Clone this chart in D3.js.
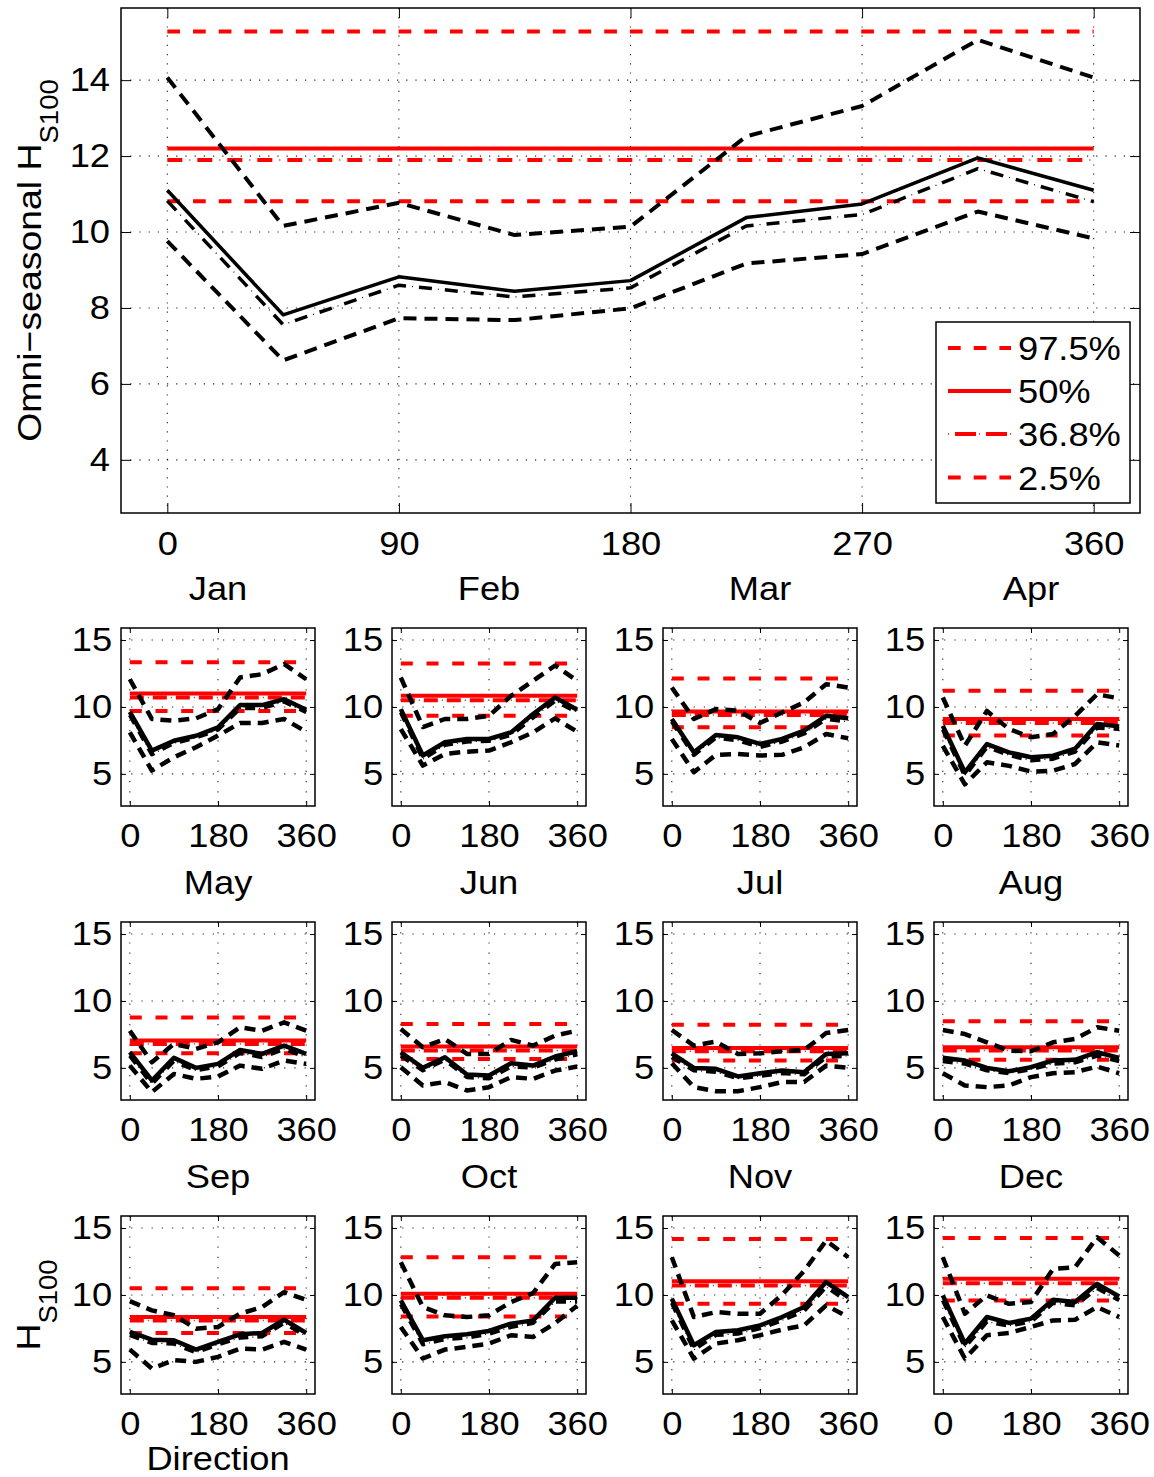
<!DOCTYPE html>
<html>
<head>
<meta charset="utf-8">
<script src="https://cdn.jsdelivr.net/npm/d3@7"></script>
<style>
  body { margin: 0; background: #fff; }
  svg text { font-family: "Liberation Sans", Arial, Helvetica, sans-serif; fill: #000; }
</style>
</head>
<body>
<svg id="fig" width="1154" height="1477"></svg>
<script>
// directions of the sectors (deg)
const directions = [0, 45, 90, 135, 180, 225, 270, 315, 360];
const quantiles = ['97.5%', '50%', '36.8%', '2.5%'];

// omni-seasonal, per direction
const omniHi   = [14.07, 10.16, 10.77, 9.92, 10.14, 12.52, 13.32, 15.06, 14.07];
const omniMed  = [11.10, 7.82, 8.82, 8.44, 8.72, 10.38, 10.74, 11.95, 11.10];
const omniMode = [10.82, 7.56, 8.60, 8.29, 8.53, 10.16, 10.46, 11.67, 10.80];
const omniLo   = [9.76, 6.62, 7.73, 7.68, 7.99, 9.17, 9.42, 10.54, 9.83];
// omni-directional levels: 97.5%, 50%, 36.8%, 2.5%
const omniLevels = [15.28, 12.2, 11.9, 10.81];

const months = ['Jan', 'Feb', 'Mar', 'Apr', 'May', 'Jun', 'Jul', 'Aug', 'Sep', 'Oct', 'Nov', 'Dec'];

const monthHi = [
  [12.07, 9.1, 8.97, 9.15, 9.84, 12.2, 12.45, 13.2, 12.07],
  [12.2, 8.5, 9.1, 9.1, 9.34, 10.83, 11.95, 13.1, 11.95],
  [11.45, 9.1, 9.84, 9.72, 8.8, 9.59, 10.34, 11.7, 11.45],
  [10.71, 7.1, 9.7, 8.35, 7.73, 7.98, 9.34, 10.95, 10.64],
  [7.78, 5.42, 6.79, 6.42, 6.91, 8.03, 7.78, 8.4, 7.78],
  [7.9, 6.54, 7.16, 6.04, 6.04, 7.09, 6.66, 7.41, 7.78],
  [7.83, 6.66, 6.96, 6.04, 6.09, 6.24, 6.34, 7.6, 7.83],
  [7.83, 7.53, 6.91, 6.29, 6.24, 6.91, 7.16, 8.03, 7.78],
  [9.54, 8.85, 8.48, 7.48, 7.61, 8.6, 9.1, 10.21, 9.64],
  [12.45, 9.1, 8.48, 8.35, 8.48, 9.47, 10.14, 12.32, 12.45],
  [12.82, 8.35, 8.72, 8.6, 8.6, 10.0, 11.8, 14.06, 12.82],
  [12.82, 8.6, 9.97, 9.34, 9.47, 11.95, 12.07, 14.31, 12.95]
];
const monthMed = [
  [9.64, 6.74, 7.48, 7.85, 8.48, 10.14, 10.14, 10.58, 9.79],
  [9.84, 6.37, 7.36, 7.61, 7.61, 8.1, 9.47, 10.71, 9.79],
  [9.1, 6.62, 7.91, 7.73, 7.24, 7.61, 8.23, 9.34, 9.15],
  [8.59, 5.12, 7.23, 6.61, 6.24, 6.36, 6.88, 8.72, 8.55],
  [6.17, 4.06, 5.75, 5.0, 5.3, 6.34, 6.04, 6.66, 6.04],
  [6.17, 5.0, 5.8, 4.5, 4.43, 5.35, 5.17, 5.85, 6.24],
  [6.09, 5.0, 4.93, 4.36, 4.6, 4.8, 4.68, 6.04, 6.09],
  [5.75, 5.55, 5.0, 4.75, 5.05, 5.55, 5.6, 6.17, 5.75],
  [7.24, 6.66, 6.62, 5.92, 6.49, 7.06, 7.16, 8.15, 7.16],
  [9.59, 6.62, 6.91, 7.06, 7.31, 7.86, 8.1, 9.79, 9.79],
  [9.72, 6.24, 7.24, 7.36, 7.73, 8.35, 9.1, 10.96, 9.84],
  [9.97, 6.37, 8.35, 7.91, 8.23, 9.64, 9.47, 10.83, 9.89]
];
const monthMode = [
  [9.4, 6.45, 7.3, 7.7, 8.3, 9.9, 9.9, 10.4, 9.6],
  [9.6, 6.1, 7.15, 7.4, 7.45, 7.9, 9.2, 10.45, 9.6],
  [8.9, 6.4, 7.7, 7.5, 7.0, 7.4, 8.0, 9.1, 8.9],
  [8.3, 4.85, 7.0, 6.4, 6.0, 6.12, 6.65, 8.45, 8.35],
  [5.9, 3.8, 5.5, 4.8, 5.1, 6.1, 5.8, 6.4, 5.8],
  [5.9, 4.8, 5.6, 4.3, 4.2, 5.1, 5.0, 5.6, 6.0],
  [5.8, 4.8, 4.7, 4.2, 4.4, 4.6, 4.5, 5.8, 5.9],
  [5.5, 5.3, 4.8, 4.6, 4.9, 5.3, 5.4, 5.9, 5.5],
  [7.0, 6.4, 6.35, 5.7, 6.3, 6.8, 6.9, 7.9, 6.9],
  [9.3, 6.3, 6.7, 6.8, 7.1, 7.6, 7.9, 9.5, 9.5],
  [9.4, 5.9, 7.0, 7.1, 7.5, 8.1, 8.8, 10.6, 9.5],
  [9.6, 6.1, 8.0, 7.7, 8.0, 9.4, 9.2, 10.5, 9.6]
];
const monthLo = [
  [8.1, 5.25, 6.24, 6.99, 7.86, 8.8, 8.8, 9.1, 8.15],
  [8.35, 5.62, 6.49, 6.66, 6.74, 7.36, 8.1, 9.15, 8.15],
  [7.61, 5.13, 6.42, 6.49, 6.37, 6.42, 6.99, 7.98, 7.66],
  [7.1, 4.22, 5.87, 5.6, 5.17, 5.24, 5.74, 7.36, 7.12],
  [5.17, 3.19, 4.55, 4.18, 4.36, 5.17, 4.93, 5.55, 5.3],
  [5.05, 3.69, 3.94, 3.31, 3.56, 4.31, 4.18, 4.8, 5.1],
  [5.35, 3.56, 3.26, 3.26, 3.56, 3.94, 3.94, 5.17, 5.0],
  [4.6, 3.69, 3.56, 3.69, 4.31, 4.6, 4.68, 5.1, 4.6],
  [5.92, 4.5, 5.13, 5.0, 5.37, 5.99, 5.92, 6.49, 5.92],
  [7.61, 5.25, 5.92, 6.12, 6.37, 6.99, 6.86, 7.9, 9.2],
  [8.1, 5.25, 6.37, 6.62, 6.99, 7.41, 7.73, 9.22, 8.35],
  [8.35, 5.25, 6.99, 7.16, 7.61, 8.1, 8.15, 9.1, 8.35]
];
// monthly omni-directional levels: 97.5%, 50%, 36.8%, 2.5%
const monthLevels = [
  [13.35, 11.0, 10.7, 9.7],
  [13.25, 10.83, 10.5, 9.34],
  [12.12, 9.67, 9.4, 8.48],
  [11.21, 9.1, 8.8, 7.86],
  [8.77, 7.04, 6.79, 6.09],
  [8.28, 6.59, 6.29, 5.67],
  [8.23, 6.49, 6.24, 5.55],
  [8.48, 6.54, 6.29, 5.6],
  [10.51, 8.35, 8.1, 7.16],
  [12.82, 10.09, 9.79, 8.4],
  [14.18, 11.03, 10.71, 9.34],
  [14.26, 11.21, 10.88, 9.59]
];

const RED = '#ff0000';
const FS = 33;          // font size
const SX = 1.1;         // horizontal stretch of the text
const xDomain = [-18, 378];
const yDomain = [2.6, 15.9];

const svg = d3.select('#fig');

// draws a styled stroke; dash-dot = thick dashes + thin dots
function strokePath(sel, st) {
  if (st.dot) {
    const P = st.dot.d + 2 * st.dot.g + 1;
    sel.clone(true).attr('stroke-width', st.dotW)
      .attr('stroke-dasharray', `1,${P - 1}`)
      .attr('stroke-dashoffset', st.dot.g + 1);
    sel.attr('stroke-width', st.w).attr('stroke-dasharray', `${st.dot.d},${P - st.dot.d}`);
  } else {
    sel.attr('stroke-width', st.w).attr('stroke-dasharray', st.dash || null);
  }
}

function drawPanel(g, w, h, o) {
  const x = d3.scaleLinear().domain(xDomain).range([0, w]);
  const y = d3.scaleLinear().domain(yDomain).range([h, 0]);

  // dotted grid
  g.append('g').selectAll('line').data(o.xTicks).join('line')
    .attr('x1', d => x(d)).attr('x2', d => x(d))
    .attr('y1', 0).attr('y2', h)
    .attr('stroke', '#222').attr('stroke-width', 1.1)
    .attr('stroke-dasharray', o.gridDash);
  g.append('g').selectAll('line').data(o.yTicks).join('line')
    .attr('x1', 0).attr('x2', w)
    .attr('y1', d => y(d)).attr('y2', d => y(d))
    .attr('stroke', '#222').attr('stroke-width', 1.1)
    .attr('stroke-dasharray', o.gridDash);

  // red reference levels
  const gr = g.append('g');
  o.levels.forEach((v, i) => {
    const l = gr.append('line')
      .attr('x1', x(0)).attr('x2', x(360))
      .attr('y1', y(v)).attr('y2', y(v))
      .attr('stroke', RED);
    strokePath(l, o.redStyle[i]);
  });

  // black directional curves
  const line = d3.line().x((d, i) => x(directions[i])).y(d => y(d));
  const gb = g.append('g');
  o.series.forEach((s, i) => {
    const p = gb.append('path').datum(s).attr('d', line)
      .attr('fill', 'none').attr('stroke', '#000')
      .attr('stroke-linejoin', 'round');
    strokePath(p, o.blackStyle[i]);
  });

  // axes with inward ticks
  const tl = o.tickLen;
  const styleAxis = sel => {
    sel.select('.domain').remove();
    sel.selectAll('.tick line').attr('stroke', '#000').attr('stroke-width', 1);
    sel.selectAll('.tick text')
      .attr('font-size', FS)
      .attr('font-family', null)
      .attr('transform', `scale(${SX},1)`);
  };
  g.append('g').attr('transform', `translate(0,${h})`)
    .call(d3.axisBottom(x).tickValues(o.xTicks).tickSizeInner(-tl).tickSizeOuter(0)
      .tickPadding(o.xPad).tickFormat(d3.format('d')))
    .call(styleAxis);
  g.append('g')
    .call(d3.axisLeft(y).tickValues(o.yTicks).tickSizeInner(-tl).tickSizeOuter(0)
      .tickPadding(o.yPad).tickFormat(d3.format('d')))
    .call(styleAxis);
  g.append('g')
    .call(d3.axisTop(x).tickValues(o.xTicks).tickSizeInner(-tl).tickSizeOuter(0).tickFormat(''))
    .call(styleAxis);
  g.append('g').attr('transform', `translate(${w},0)`)
    .call(d3.axisRight(y).tickValues(o.yTicks).tickSizeInner(-tl).tickSizeOuter(0).tickFormat(''))
    .call(styleAxis);

  g.append('rect').attr('width', w).attr('height', h)
    .attr('fill', 'none').attr('stroke', '#000').attr('stroke-width', 1.5);

  return { x, y };
}

// ---------- main omni-seasonal panel ----------
const mainL = 121, mainT = 8, mainW = 1019, mainH = 505;
const mainRed = [
  { w: 4, dash: '12.7,13' },
  { w: 4 },
  { w: 4, dotW: 1.5, dot: { d: 15, g: 7 } },
  { w: 4, dash: '12.7,13' }
];
const gm = svg.append('g').attr('transform', `translate(${mainL},${mainT})`);
drawPanel(gm, mainW, mainH, {
  xTicks: [0, 90, 180, 270, 360],
  yTicks: [4, 6, 8, 10, 12, 14],
  levels: omniLevels,
  series: [omniHi, omniMed, omniMode, omniLo],
  redStyle: mainRed,
  blackStyle: [
    { w: 4, dash: '13,8' },
    { w: 3.5 },
    { w: 3.5, dotW: 1.2, dot: { d: 13, g: 6 } },
    { w: 4, dash: '13,8' }
  ],
  gridDash: '1.2,8',
  tickLen: 10,
  xPad: 19,
  yPad: 10
});

// y label
const yl = svg.append('text')
  .attr('transform', `translate(41,${mainT + mainH / 2}) rotate(-90) scale(${SX},1)`)
  .attr('text-anchor', 'middle').attr('font-size', 34);
yl.append('tspan').text('Omni\u2212seasonal H');
yl.append('tspan').attr('font-size', 25).attr('dy', 17).text('S100');

// legend
const lg = svg.append('g').attr('transform', 'translate(936,322)');
lg.append('rect').attr('width', 194).attr('height', 181)
  .attr('fill', '#fff').attr('stroke', '#000').attr('stroke-width', 1.5);
const legRows = [26, 69, 112, 155.5];
const legStyle = [
  { w: 4, dash: '12.7,13' },
  { w: 4 },
  { w: 4, dotW: 1.5, dot: { d: 15, g: 7 } },
  { w: 4, dash: '12.7,13' }
];
quantiles.forEach((q, i) => {
  const l = lg.append('line').attr('x1', 12).attr('x2', 75)
    .attr('y1', legRows[i]).attr('y2', legRows[i])
    .attr('stroke', RED);
  if (i === 2) {
    // dot - dash - dot - dash sample
    l.attr('stroke-width', 4).attr('stroke-dasharray', '0,7,21,10,21,10');
    lg.append('line').attr('x1', 12).attr('x2', 75)
      .attr('y1', legRows[i]).attr('y2', legRows[i])
      .attr('stroke', RED).attr('stroke-width', 1.5)
      .attr('stroke-dasharray', '1,30');
  } else {
    strokePath(l, legStyle[i]);
  }
  lg.append('text').attr('transform', `translate(82,${legRows[i] + 12}) scale(${SX},1)`)
    .attr('font-size', FS).text(q);
});

// ---------- monthly panels ----------
const colL = [121, 392, 663, 934];
const rowT = [628, 922, 1216];
const pW = 194, pH = 178;

months.forEach((m, k) => {
  const c = k % 4, r = Math.floor(k / 4);
  const g = svg.append('g').attr('transform', `translate(${colL[c]},${rowT[r]})`);
  drawPanel(g, pW, pH, {
    xTicks: [0, 180, 360],
    yTicks: [5, 10, 15],
    levels: monthLevels[k],
    series: [monthHi[k], monthMed[k], monthMode[k], monthLo[k]],
    redStyle: [
      { w: 4, dash: '12,13.7' },
      { w: 4 },
      { w: 4, dotW: 1.5, dot: { d: 14, g: 4 } },
      { w: 4, dash: '12,13.7' }
    ],
    blackStyle: [
      { w: 4.5, dash: '11,7' },
      { w: 4.5 },
      { w: 4, dotW: 1.2, dot: { d: 10, g: 4 } },
      { w: 4.5, dash: '11,7' }
    ],
    gridDash: '1.2,9',
    tickLen: 5,
    xPad: 18,
    yPad: 8
  });
  g.append('text').attr('transform', `translate(${pW / 2},-28) scale(${SX},1)`)
    .attr('text-anchor', 'middle').attr('font-size', FS).text(m);
});

// lower-left labels
const hl = svg.append('text')
  .attr('transform', `translate(40,${rowT[2] + pH / 2}) rotate(-90) scale(${SX},1)`)
  .attr('text-anchor', 'middle').attr('font-size', 34);
hl.append('tspan').text('H');
hl.append('tspan').attr('font-size', 25).attr('dy', 17).text('S100');

svg.append('text')
  .attr('transform', `translate(${colL[0] + pW / 2},1470) scale(${SX},1)`)
  .attr('text-anchor', 'middle').attr('font-size', FS).text('Direction');
</script>
</body>
</html>
